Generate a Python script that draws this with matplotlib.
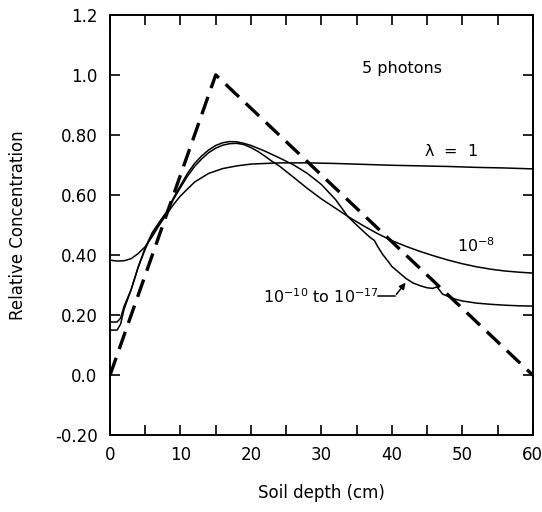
import numpy as np
import matplotlib.pyplot as plt

plt.rcParams['font.family'] = 'DejaVu Sans'
plt.rcParams['mathtext.default'] = 'regular'

# dashed initial profile
tri_x = [0, 15, 60]
tri_y = [0.0, 1.0, 0.0]

# lambda = 1
l1_x = [0, 1, 2, 3, 4, 5, 6, 7, 8, 9, 10, 12, 14, 16, 18, 20, 24, 28, 32, 36, 40, 44, 48, 52, 56, 60]
l1_y = [0.383, 0.380, 0.381, 0.388, 0.405, 0.428, 0.462, 0.50, 0.535, 0.568, 0.597, 0.643, 0.672, 0.688, 0.697, 0.703, 0.707, 0.707, 0.705, 0.702, 0.699, 0.697, 0.695, 0.692, 0.690, 0.687]

# lambda = 1e-8
l8_x = [0, 1, 1.5, 2, 3, 4, 5, 6, 7, 8, 9, 10, 11, 12, 13, 14, 15, 16, 17, 18, 19, 20, 21, 22, 23, 24,
        26, 28, 30, 32, 34, 36, 38, 40, 42, 44, 46, 48, 50, 52, 54, 56, 58, 60]
l8_y = [0.177, 0.177, 0.19, 0.23, 0.285, 0.36, 0.42, 0.47, 0.505, 0.54, 0.585, 0.625, 0.663, 0.695, 0.72, 0.741, 0.756, 0.766, 0.771, 0.772, 0.768, 0.758, 0.745, 0.729, 0.712, 0.697,
        0.66, 0.622, 0.587, 0.556, 0.525, 0.497, 0.471, 0.448, 0.429, 0.412, 0.397, 0.383, 0.371, 0.361, 0.353, 0.347, 0.343, 0.340]

# lambda = 1e-10 to 1e-17
l10_x = [0, 1, 1.5, 2, 3, 4, 5, 6, 7, 8, 9, 10, 11, 12, 13, 14, 15, 16, 17, 18, 19, 20, 22, 24, 26, 28, 30,
         32, 33.8, 35, 36, 37, 37.5, 38, 38.7, 39.5, 40, 41, 42, 43, 44, 45, 45.8, 46.4, 47.2, 48, 49, 50, 52, 54, 56, 58, 60]
l10_y = [0.15, 0.15, 0.17, 0.22, 0.285, 0.36, 0.425, 0.475, 0.51, 0.543, 0.59, 0.632, 0.672, 0.705, 0.73, 0.75, 0.765, 0.774, 0.778, 0.777, 0.772, 0.765, 0.746, 0.724, 0.701, 0.672, 0.635,
         0.585, 0.527, 0.50, 0.478, 0.457, 0.449, 0.428, 0.402, 0.378, 0.362, 0.342, 0.322, 0.307, 0.298, 0.291, 0.289, 0.294, 0.270, 0.262, 0.253, 0.247, 0.240, 0.236, 0.233, 0.231, 0.230]

fig = plt.figure(figsize=(5.42, 5.12), dpi=100)
ax = fig.add_axes([0.203, 0.150, 0.780, 0.821])

ax.plot(tri_x, tri_y, color='black', lw=2.4, dashes=(5.5, 2.8))
ax.plot(l1_x, l1_y, color='black', lw=1.1)
ax.plot(l8_x, l8_y, color='black', lw=1.1)
ax.plot(l10_x, l10_y, color='black', lw=1.1)

ax.set_xlim(0, 60)
ax.set_ylim(-0.2, 1.2)
ax.set_xticks(np.arange(0, 61, 10))
ax.set_xticks(np.arange(0, 61, 5), minor=True)
ax.set_yticks([-0.2, 0.0, 0.2, 0.4, 0.6, 0.8, 1.0, 1.2])
ax.set_yticklabels(['-0.20', '0.0', '0.20', '0.40', '0.60', '0.80', '1.0', '1.2'])
ax.tick_params(which='both', direction='in', top=True, right=True, length=7, width=1.2, labelsize=12)
ax.tick_params(axis='x', pad=8)
ax.tick_params(axis='y', pad=9)
for s in ax.spines.values():
    s.set_linewidth(1.4)

ax.set_xlabel('Soil depth (cm)', fontsize=12, labelpad=14)
ax.set_ylabel('Relative Concentration', fontsize=12, labelpad=20)

ax.text(41.4, 1.02, '5 photons', fontsize=11.5, ha='center', va='center')
ax.text(48.4, 0.745, r'$\lambda$  =  1', fontsize=11.5, ha='center', va='center')
ax.text(52.0, 0.43, r'$10^{-8}$', fontsize=11.5, ha='center', va='center')
ax.text(21.7, 0.262, r'$10^{-10}$ to $10^{-17}$', fontsize=11.5, ha='left', va='center')
ax.plot([38.0, 40.4], [0.262, 0.262], color='black', lw=1.1)
ax.annotate('', xy=(42.2, 0.315), xytext=(40.4, 0.262),
            arrowprops=dict(arrowstyle='-|>', color='black', lw=1.1, mutation_scale=9))

fig.savefig('out.png', dpi=100)
